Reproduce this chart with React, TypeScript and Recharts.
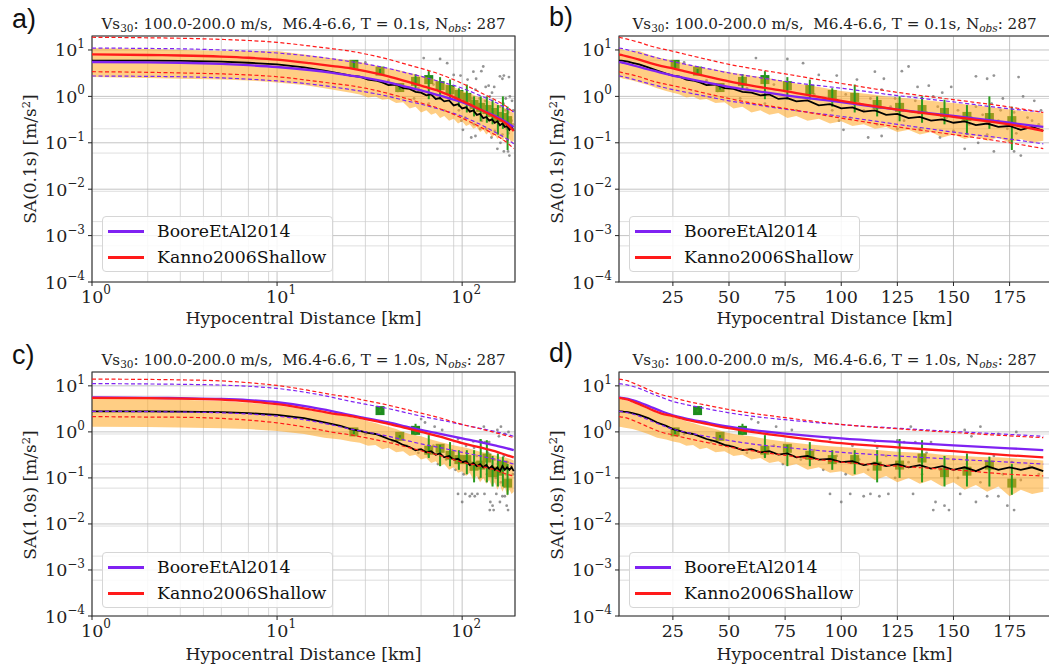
import React from "react";
import {
  ComposedChart,
  Line,
  Area,
  Scatter,
  ErrorBar,
  XAxis,
  YAxis,
  CartesianGrid,
  ReferenceArea,
} from "recharts";

// distances used for the model curves (km)
const modelDist = [1, 2, 3, 5, 7, 10, 15, 20, 25, 30, 40, 50, 60, 75, 100, 125, 150, 175, 190];

// T = 0.1s models
const boore01 = [5.5, 5.4, 5.3, 5.0, 4.7, 4.3, 3.7, 3.2, 2.8, 2.5, 2.0, 1.6, 1.35, 1.05, 0.75, 0.52, 0.38, 0.27, 0.22];
const boore01Hi = [11, 10.8, 10.6, 10, 9.4, 8.6, 7.4, 6.4, 5.6, 5.0, 4.0, 3.2, 2.7, 2.1, 1.5, 1.04, 0.76, 0.54, 0.46];
const boore01Lo = [2.75, 2.7, 2.65, 2.5, 2.35, 2.15, 1.85, 1.6, 1.4, 1.25, 1.0, 0.8, 0.68, 0.53, 0.37, 0.25, 0.17, 0.12, 0.095];
const kanno01 = [8.0, 7.8, 7.6, 7.2, 6.8, 6.2, 5.2, 4.5, 4.0, 3.5, 2.7, 2.1, 1.7, 1.3, 0.8, 0.52, 0.36, 0.25, 0.18];
const kanno01Hi = [18.8, 18.3, 17.9, 16.9, 16, 14.6, 12.2, 10.6, 9.4, 8.2, 6.3, 4.9, 4.0, 3.05, 1.9, 1.22, 0.85, 0.59, 0.45];
const kanno01Lo = [3.4, 3.3, 3.2, 3.05, 2.9, 2.65, 2.2, 1.9, 1.7, 1.5, 1.15, 0.9, 0.72, 0.55, 0.34, 0.22, 0.15, 0.1, 0.075];

// T = 1.0s models
const boore10 = [5.6, 5.5, 5.4, 5.2, 4.9, 4.4, 3.5, 2.8, 2.3, 2.0, 1.6, 1.3, 1.1, 0.92, 0.72, 0.6, 0.51, 0.44, 0.4];
const boore10Hi = [11.2, 11, 10.8, 10.4, 9.8, 8.8, 7.0, 5.6, 4.6, 4.0, 3.2, 2.6, 2.2, 1.84, 1.44, 1.2, 1.02, 0.88, 0.8];
const boore10Lo = [2.8, 2.75, 2.7, 2.6, 2.45, 2.2, 1.75, 1.4, 1.15, 1.0, 0.8, 0.65, 0.55, 0.46, 0.36, 0.3, 0.255, 0.22, 0.2];
const kanno10 = [5.5, 5.4, 5.3, 5.0, 4.6, 4.0, 3.1, 2.5, 2.2, 1.9, 1.5, 1.2, 1.0, 0.8, 0.57, 0.46, 0.38, 0.31, 0.28];
const kanno10Hi = [14, 13.8, 13.5, 12.8, 11.7, 10.2, 7.9, 6.4, 5.6, 4.8, 3.8, 3.06, 2.55, 2.04, 1.45, 1.17, 0.97, 0.82, 0.75];
const kanno10Lo = [2.15, 2.1, 2.08, 1.96, 1.8, 1.57, 1.22, 0.98, 0.86, 0.75, 0.59, 0.47, 0.39, 0.31, 0.22, 0.18, 0.15, 0.12, 0.11];

// running statistics of observations
const obsDist = [1, 2, 3, 5, 7, 10, 14, 18, 22, 25, 28, 31, 34, 37, 40, 44, 48, 52, 56, 60, 64, 68, 72, 76, 80, 85, 90, 95, 100, 105, 110, 115, 120, 125, 130, 135, 140, 145, 150, 155, 160, 165, 170, 175, 180, 185, 190];

const median01 = [5.9, 5.9, 5.8, 5.6, 5.3, 4.9, 4.2, 3.6, 3.1, 2.8, 2.65, 2.3, 2.2, 2.0, 1.75, 1.8, 1.5, 1.45, 1.25, 1.2, 1.05, 1.1, 0.88, 0.92, 0.78, 0.82, 0.64, 0.68, 0.55, 0.58, 0.47, 0.5, 0.4, 0.42, 0.34, 0.36, 0.3, 0.32, 0.27, 0.29, 0.24, 0.26, 0.22, 0.23, 0.19, 0.22, 0.18];
const bandHi01 = [11, 10.5, 10, 9.5, 9.5, 9.5, 8.0, 7.0, 6.3, 6.0, 5.5, 5.0, 4.6, 4.3, 4.0, 3.8, 3.5, 3.2, 3.0, 2.8, 2.6, 2.45, 2.25, 2.05, 1.9, 1.75, 1.6, 1.45, 1.3, 1.22, 1.15, 1.08, 1.0, 0.95, 0.9, 0.85, 0.8, 0.76, 0.72, 0.68, 0.64, 0.6, 0.56, 0.52, 0.49, 0.46, 0.44];
const bandLo01 = [2.6, 2.5, 2.4, 2.3, 2.2, 2.0, 1.75, 1.5, 1.3, 1.2, 1.1, 0.95, 1.0, 0.85, 0.88, 0.72, 0.75, 0.55, 0.6, 0.45, 0.5, 0.4, 0.44, 0.34, 0.38, 0.3, 0.33, 0.26, 0.29, 0.23, 0.25, 0.2, 0.22, 0.17, 0.19, 0.15, 0.17, 0.13, 0.15, 0.12, 0.14, 0.11, 0.13, 0.1, 0.12, 0.1, 0.11];

const median10 = [2.8, 2.8, 2.75, 2.7, 2.55, 2.35, 2.0, 1.6, 1.35, 1.15, 1.05, 0.95, 0.9, 0.8, 0.7, 0.62, 0.52, 0.47, 0.4, 0.42, 0.36, 0.38, 0.32, 0.34, 0.28, 0.3, 0.25, 0.26, 0.22, 0.23, 0.19, 0.21, 0.18, 0.2, 0.17, 0.19, 0.16, 0.18, 0.15, 0.17, 0.14, 0.18, 0.15, 0.17, 0.15, 0.17, 0.14];
const bandHi10 = [5.3, 5.2, 5.0, 4.7, 4.3, 3.8, 3.1, 2.6, 2.3, 2.1, 1.9, 1.7, 1.55, 1.4, 1.3, 1.15, 1.0, 0.9, 0.85, 0.8, 0.74, 0.68, 0.64, 0.6, 0.57, 0.54, 0.51, 0.49, 0.47, 0.45, 0.43, 0.41, 0.39, 0.37, 0.36, 0.35, 0.34, 0.32, 0.31, 0.3, 0.29, 0.28, 0.28, 0.27, 0.26, 0.25, 0.24];
const bandLo10 = [1.3, 1.28, 1.25, 1.2, 1.15, 1.05, 0.9, 0.75, 0.68, 0.62, 0.58, 0.5, 0.52, 0.42, 0.45, 0.36, 0.38, 0.3, 0.32, 0.25, 0.27, 0.21, 0.23, 0.18, 0.2, 0.15, 0.17, 0.13, 0.14, 0.11, 0.13, 0.09, 0.11, 0.08, 0.1, 0.075, 0.09, 0.065, 0.08, 0.055, 0.07, 0.05, 0.065, 0.04, 0.055, 0.045, 0.05];

// binned means with +/- error
const binDist = [26, 36, 46, 56, 66, 76, 86, 96, 106, 116, 126, 136, 146, 156, 166, 176];
const binMean01 = [4.9, 3.5, 1.55, 2.1, 2.3, 1.7, 1.4, 1.1, 0.95, 0.67, 0.58, 0.52, 0.45, 0.37, 0.35, 0.3];
const binHi01 = [6.0, 3.9, 1.7, 3.0, 3.5, 2.6, 2.3, 1.5, 1.8, 1.0, 1.0, 1.0, 0.85, 0.65, 1.0, 0.6];
const binLo01 = [3.8, 3.1, 1.4, 1.5, 0.87, 0.86, 0.86, 0.6, 0.45, 0.37, 0.29, 0.27, 0.25, 0.15, 0.2, 0.07];
const binMean10 = [1.0, 2.9, 0.8, 1.08, 0.4, 0.44, 0.31, 0.25, 0.25, 0.18, 0.19, 0.27, 0.13, 0.14, 0.19, 0.077];
const binHi10 = [1.1, 3.1, 0.85, 1.5, 0.85, 0.52, 0.6, 0.4, 0.4, 0.4, 0.7, 0.66, 0.3, 0.34, 0.29, 0.2];
const binLo10 = [0.9, 2.7, 0.75, 0.85, 0.27, 0.18, 0.18, 0.15, 0.12, 0.08, 0.1, 0.08, 0.065, 0.065, 0.065, 0.043];

// individual records
const recDist01 = [30, 62, 76, 83, 90, 98, 107, 115, 119, 127, 130, 134, 139, 149, 160, 165, 168, 179, 181, 101, 112, 118, 144, 155, 168, 177, 180, 161, 40, 45, 55, 70, 80, 92, 102, 108, 113, 122, 128, 133, 138, 143, 147, 152, 157, 160, 163, 167, 170, 172, 177, 183, 186, 188, 145, 118, 125, 135, 150, 165, 175, 178, 58, 66, 88, 96, 104, 110, 124, 137, 141, 154, 158, 171, 174, 185, 189, 99, 116];
const recSA01 = [5.4, 6.7, 6.4, 5.2, 2.9, 2.8, 2.3, 3.4, 2.4, 3.5, 4.4, 1.6, 1.7, 1.6, 2.7, 2.4, 2.8, 2.6, 1.0, 0.19, 0.13, 0.14, 0.13, 0.074, 0.065, 0.065, 0.053, 0.1, 2.2, 1.3, 0.9, 1.8, 0.5, 0.9, 1.1, 0.7, 0.9, 0.6, 0.3, 0.8, 0.45, 0.6, 0.35, 0.5, 0.25, 0.6, 0.4, 0.7, 0.3, 0.9, 0.45, 0.35, 0.8, 0.25, 1.2, 1.4, 0.2, 0.2, 0.18, 0.15, 0.11, 0.16, 1.5, 0.7, 1.1, 0.5, 0.35, 0.5, 0.9, 0.6, 1.0, 0.3, 0.35, 0.5, 0.2, 0.3, 0.5, 0.3, 0.25];
const recDist10 = [60, 63, 71, 78, 116, 125, 128, 131, 133, 140, 155, 158, 162, 170, 178, 115, 95, 105, 95, 100, 104, 110, 113, 117, 121, 132, 141, 142, 146, 148, 153, 160, 165, 170, 174, 177, 30, 42, 50, 58, 66, 70, 74, 82, 88, 92, 98, 102, 108, 112, 120, 124, 130, 136, 138, 144, 150, 152, 156, 162, 166, 168, 172, 176, 180, 184, 188];
const recSA10 = [1.9, 1.6, 1.3, 1.1, 0.45, 0.65, 0.6, 1.3, 0.6, 0.6, 1.1, 0.8, 1.3, 0.9, 1.0, 0.62, 0.7, 0.5, 0.045, 0.03, 0.045, 0.04, 0.045, 0.04, 0.045, 0.045, 0.02, 0.03, 0.025, 0.02, 0.045, 0.03, 0.04, 0.04, 0.025, 0.02, 0.9, 0.6, 0.5, 0.35, 0.3, 0.5, 0.2, 0.25, 0.4, 0.15, 0.3, 0.12, 0.25, 0.15, 0.3, 0.1, 0.22, 0.12, 0.35, 0.15, 0.25, 0.1, 0.2, 0.08, 0.15, 0.3, 0.12, 0.22, 0.09, 0.18, 0.12];

// axes
const Y_TICKS = [1e-4, 1e-3, 1e-2, 1e-1, 1, 10];
const Y_MINOR = Y_TICKS.flatMap((b) => [2, 3, 4, 5, 6, 7, 8, 9].map((m) => m * b)).filter((v) => v <= 20);
const LOG_X_TICKS = [1, 10, 100];
const LOG_X_MINOR = [2, 3, 4, 5, 6, 7, 8, 9, 20, 30, 40, 50, 60, 70, 80, 90];
const LIN_X_TICKS = [25, 50, 75, 100, 125, 150, 175];
const X_MAX = 193;

const PURPLE = "#7f22f2";
const RED = "#ff1a1a";
const SERIF = "'DejaVu Serif', serif";
const TICK_FS = 17.5;

const modelRows = (bm: number[], bh: number[], bl: number[], km: number[], kh: number[], kl: number[]) =>
  modelDist.map((d, i) => ({ d, bm: bm[i], bh: bh[i], bl: bl[i], km: km[i], kh: kh[i], kl: kl[i] }));
const obsRows = (med: number[], lo: number[], hi: number[]) =>
  obsDist.map((d, i) => ({ d, med: med[i], band: [lo[i], hi[i]] }));
const binRows = (m: number[], lo: number[], hi: number[]) =>
  binDist.map((d, i) => ({ d, v: m[i], err: [m[i] - lo[i], hi[i] - m[i]] }));
const recRows = (dist: number[], sa: number[]) => dist.map((d, i) => ({ d, v: sa[i] }));

const set01 = {
  period: "0.1",
  model: modelRows(boore01, boore01Hi, boore01Lo, kanno01, kanno01Hi, kanno01Lo),
  obs: obsRows(median01, bandLo01, bandHi01),
  bins: binRows(binMean01, binLo01, binHi01),
  recs: recRows(recDist01, recSA01),
};
const set10 = {
  period: "1.0",
  model: modelRows(boore10, boore10Hi, boore10Lo, kanno10, kanno10Hi, kanno10Lo),
  obs: obsRows(median10, bandLo10, bandHi10),
  bins: binRows(binMean10, binLo10, binHi10),
  recs: recRows(recDist10, recSA10),
};

const expText = (e: number) => (e < 0 ? "\u2212" + Math.abs(e) : String(e));

const YPowTick = (props: any) => {
  const { x, y, payload } = props;
  const e = Math.round(Math.log10(payload.value));
  return (
    <text x={x} y={y + 6.5} textAnchor="end" fontSize={TICK_FS} fill="#222" fontFamily={SERIF}>
      10<tspan dy={-8.5} fontSize={12}>{expText(e)}</tspan>
    </text>
  );
};

const XPowTick = (props: any) => {
  const { x, y, payload } = props;
  const e = Math.round(Math.log10(payload.value));
  return (
    <text x={x + 4} y={y + 14.5} textAnchor="middle" fontSize={TICK_FS} fill="#222" fontFamily={SERIF}>
      10<tspan dy={-8.5} fontSize={12}>{expText(e)}</tspan>
    </text>
  );
};

const XLinTick = (props: any) => {
  const { x, y, payload } = props;
  return (
    <text x={x} y={y + 14.5} textAnchor="middle" fontSize={TICK_FS} fill="#222" fontFamily={SERIF}>
      {payload.value}
    </text>
  );
};

const GrayDot = (p: any) => <circle cx={p.cx} cy={p.cy} r={1.4} fill="#707070" fillOpacity={0.75} />;
const GreenSquare = (p: any) => <rect x={p.cx - 4.5} y={p.cy - 4.5} width={9} height={9} fill="#1e8c1e" />;

const legendItems = [
  { name: "BooreEtAl2014", color: PURPLE },
  { name: "Kanno2006Shallow", color: RED },
];

function Panel({ set, logX, left, top, width, height, right, letter }: any) {
  const plotLeft = 92;
  const plotRight = width - right;
  const cx = (plotLeft + plotRight) / 2;
  const isLeft = letter === "a" || letter === "c";
  return (
    <div style={{ position: "absolute", left, top, width, height }}>
      <div
        style={{ position: "absolute", left: isLeft ? 12 : 22, top: isLeft ? 5 : 3, fontFamily: "'Liberation Sans', Arial, sans-serif", fontSize: 27, lineHeight: "28px", color: "#111" }}
      >
        {letter})
      </div>
      <div
        style={{ position: "absolute", left: cx - 260, width: 520, top: 14, textAlign: "center", fontFamily: SERIF, fontSize: 15.2, lineHeight: "20px", whiteSpace: "pre", color: "#222" }}
      >
        Vs<sub style={{ fontSize: 10.5, verticalAlign: "-3px" }}>30</sub>: 100.0-200.0 m/s,  M6.4-6.6, T = {set.period}s, N
        <sub style={{ fontSize: 10.5, verticalAlign: "-3px", fontStyle: "italic" }}>obs</sub>: 287
      </div>
      <ComposedChart width={width} height={height} margin={{ top: 36, right, bottom: 6, left: 32 }}>
        <CartesianGrid horizontalValues={Y_MINOR} vertical={false} stroke="#d6d6d6" strokeWidth={0.8} />
        {logX && <CartesianGrid verticalValues={LOG_X_MINOR} horizontal={false} stroke="#cdcdcd" strokeWidth={0.8} />}
        <CartesianGrid stroke="#bdbdbd" strokeWidth={0.9} />
        <XAxis
          dataKey="d"
          type="number"
          scale={logX ? "log" : "linear"}
          domain={[1, X_MAX]}
          allowDataOverflow
          ticks={logX ? LOG_X_TICKS : LIN_X_TICKS}
          tick={logX ? <XPowTick /> : <XLinTick />}
          tickSize={4}
          tickMargin={2}
          tickLine={{ stroke: "#222" }}
          axisLine={false}
          height={45}
        />
        <YAxis
          type="number"
          scale="log"
          domain={[1e-4, 20]}
          allowDataOverflow
          ticks={Y_TICKS}
          tick={<YPowTick />}
          tickSize={4}
          tickMargin={3}
          tickLine={{ stroke: "#222" }}
          axisLine={false}
          width={60}
        />
        <Scatter data={set.recs} dataKey="v" shape={GrayDot} isAnimationActive={false} zIndex={40} />
        <Scatter data={set.bins} dataKey="v" shape={GreenSquare} isAnimationActive={false} zIndex={50}>
          <ErrorBar dataKey="err" direction="y" width={0} stroke="#2a9a1e" strokeWidth={2} zIndex={150} />
        </Scatter>
        <Area data={set.obs} dataKey="band" type="linear" stroke="none" fill="#ffa51f" fillOpacity={0.55} isAnimationActive={false} />
        <Line data={set.obs} dataKey="med" type="linear" stroke="#000" strokeWidth={1.8} dot={false} isAnimationActive={false} />
        <Line data={set.model} dataKey="bh" type="monotone" stroke={PURPLE} strokeWidth={1.2} strokeDasharray="4 2.5" dot={false} isAnimationActive={false} />
        <Line data={set.model} dataKey="bl" type="monotone" stroke={PURPLE} strokeWidth={1.2} strokeDasharray="4 2.5" dot={false} isAnimationActive={false} />
        <Line data={set.model} dataKey="kh" type="monotone" stroke={RED} strokeWidth={1.2} strokeDasharray="4 2.5" dot={false} isAnimationActive={false} />
        <Line data={set.model} dataKey="kl" type="monotone" stroke={RED} strokeWidth={1.2} strokeDasharray="4 2.5" dot={false} isAnimationActive={false} />
        <Line data={set.model} dataKey="bm" type="monotone" stroke={PURPLE} strokeWidth={2.3} dot={false} isAnimationActive={false} />
        <Line data={set.model} dataKey="km" type="monotone" stroke={RED} strokeWidth={2.3} dot={false} isAnimationActive={false} />
        <ReferenceArea x1={1} x2={X_MAX} y1={1e-4} y2={20} fill="none" stroke="#333" strokeWidth={1.1} ifOverflow="visible" />
      </ComposedChart>
      <div
        style={{ position: "absolute", left: 102, top: 216, width: 229, height: 54, border: "1px solid #d6d6d6", borderRadius: 4, background: "rgba(255,255,255,0.85)", fontFamily: SERIF, fontSize: 17.3, color: "#111" }}
      >
        {legendItems.map((it, i) => (
          <div key={it.name} style={{ position: "absolute", left: 5, top: 3 + i * 26, height: 22, display: "flex", alignItems: "center", whiteSpace: "nowrap" }}>
            <span style={{ display: "inline-block", width: 36, height: 3, background: it.color, marginRight: 13 }} />
            <span>{it.name}</span>
          </div>
        ))}
      </div>
      <div
        style={{ position: "absolute", left: 30 - 100, top: 159 - 11, width: 200, height: 22, textAlign: "center", transform: "rotate(-90deg)", fontFamily: SERIF, fontSize: 17, lineHeight: "22px", color: "#222" }}
      >
        SA({set.period}s) [m/s<sup style={{ fontSize: 11.5, verticalAlign: "6px", lineHeight: 0 }}>2</sup>]
      </div>
      <div
        style={{ position: "absolute", left: cx - 200, width: 400, top: 307, textAlign: "center", fontFamily: SERIF, fontSize: 17.3, lineHeight: "22px", color: "#222" }}
      >
        Hypocentral Distance [km]
      </div>
    </div>
  );
}

export default function App() {
  return (
    <div style={{ position: "absolute", left: 0, top: 0, width: 1049, height: 667, overflow: "hidden", background: "#fff" }}>
      <Panel set={set01} logX left={0} top={0} width={525} height={333} right={10} letter="a" />
      <Panel set={set01} logX={false} left={527} top={0} width={523} height={333} right={0} letter="b" />
      <Panel set={set10} logX left={0} top={336} width={525} height={331} right={10} letter="c" />
      <Panel set={set10} logX={false} left={527} top={336} width={523} height={331} right={0} letter="d" />
    </div>
  );
}
